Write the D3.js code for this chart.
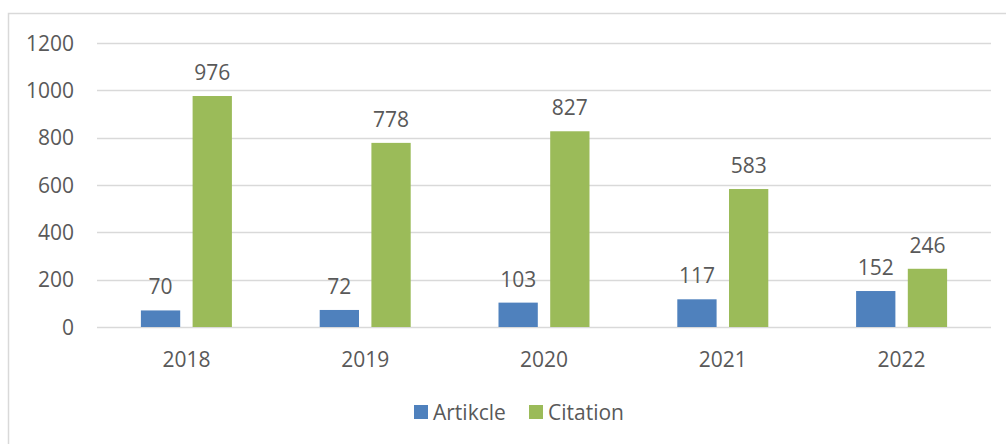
<!DOCTYPE html>
<html>
<head>
<meta charset="utf-8">
<script src="https://cdn.jsdelivr.net/npm/d3@7"></script>
<style>
body { margin: 0; background: #fff; }
text { font-family: "Open Sans", "Noto Sans", sans-serif; fill: #595959; }
</style>
</head>
<body>
<svg></svg>
<script>
var years = ["2018", "2019", "2020", "2021", "2022"];
var artikcle = [70, 72, 103, 117, 152];
var citation = [976, 778, 827, 583, 246];
var yTicks = [0, 200, 400, 600, 800, 1000, 1200];
var seriesNames = ["Artikcle", "Citation"];
var colors = ["#4F81BD", "#9BBB59"];

var svgWidth = 1006;
var svgHeight = 444;

var svg = d3.select("svg")
	.attr("width", svgWidth)
	.attr("height", svgHeight);

// outer chart border
svg.append("rect")
	.attr("x", 8.5)
	.attr("y", 13.5)
	.attr("width", 1010)
	.attr("height", 450)
	.attr("fill", "none")
	.attr("stroke", "#D9D9D9")
	.attr("stroke-width", 1.5);

var xScale = d3.scaleBand()
	.domain(years)
	.range([97, 991]);

var yScale = d3.scaleLinear()
	.domain([0, 1200])
	.range([327, 43]);

var inner = d3.scaleBand()
	.domain(seriesNames)
	.range([0, 91])
	.paddingInner(0.24);

var offset = (xScale.bandwidth() - 91) / 2;

// gridlines
svg.selectAll(".grid")
	.data(yTicks)
	.enter()
	.append("line")
	.attr("x1", 97)
	.attr("x2", 991)
	.attr("y1", function(d) { return Math.round(yScale(d)) + 0.5; })
	.attr("y2", function(d) { return Math.round(yScale(d)) + 0.5; })
	.attr("stroke", "#D9D9D9")
	.attr("stroke-width", 1.5);

svg.selectAll(".ytick")
	.data(yTicks)
	.enter()
	.append("text")
	.attr("x", 74)
	.attr("y", function(d) { return yScale(d) + 7.5; })
	.attr("text-anchor", "end")
	.attr("font-size", 21)
	.text(function(d) { return d; });

var series = [artikcle, citation];

series.forEach(function(values, s) {
	svg.selectAll(".bar" + s)
		.data(values)
		.enter()
		.append("rect")
		.attr("x", function(d, i) { return xScale(years[i]) + offset + inner(seriesNames[s]); })
		.attr("y", function(d) { return yScale(d); })
		.attr("width", inner.bandwidth())
		.attr("height", function(d) { return yScale(0) - yScale(d); })
		.attr("fill", colors[s]);

	svg.selectAll(".lbl" + s)
		.data(values)
		.enter()
		.append("text")
		.attr("x", function(d, i) { return xScale(years[i]) + offset + inner(seriesNames[s]) + inner.bandwidth() / 2; })
		.attr("y", function(d) { return yScale(d) - 16; })
		.attr("text-anchor", "middle")
		.attr("font-size", 21)
		.text(function(d) { return d; });
});

svg.selectAll(".xlbl")
	.data(years)
	.enter()
	.append("text")
	.attr("x", function(d) { return xScale(d) + xScale.bandwidth() / 2; })
	.attr("y", 367)
	.attr("text-anchor", "middle")
	.attr("font-size", 21)
	.text(function(d) { return d; });

// legend
var legendX = [414, 529];
seriesNames.forEach(function(name, s) {
	svg.append("rect")
		.attr("x", legendX[s])
		.attr("y", 405)
		.attr("width", 14)
		.attr("height", 14)
		.attr("fill", colors[s]);
	svg.append("text")
		.attr("x", legendX[s] + 19)
		.attr("y", 419.5)
		.attr("font-size", 21)
		.text(name);
});
</script>
</body>
</html>
